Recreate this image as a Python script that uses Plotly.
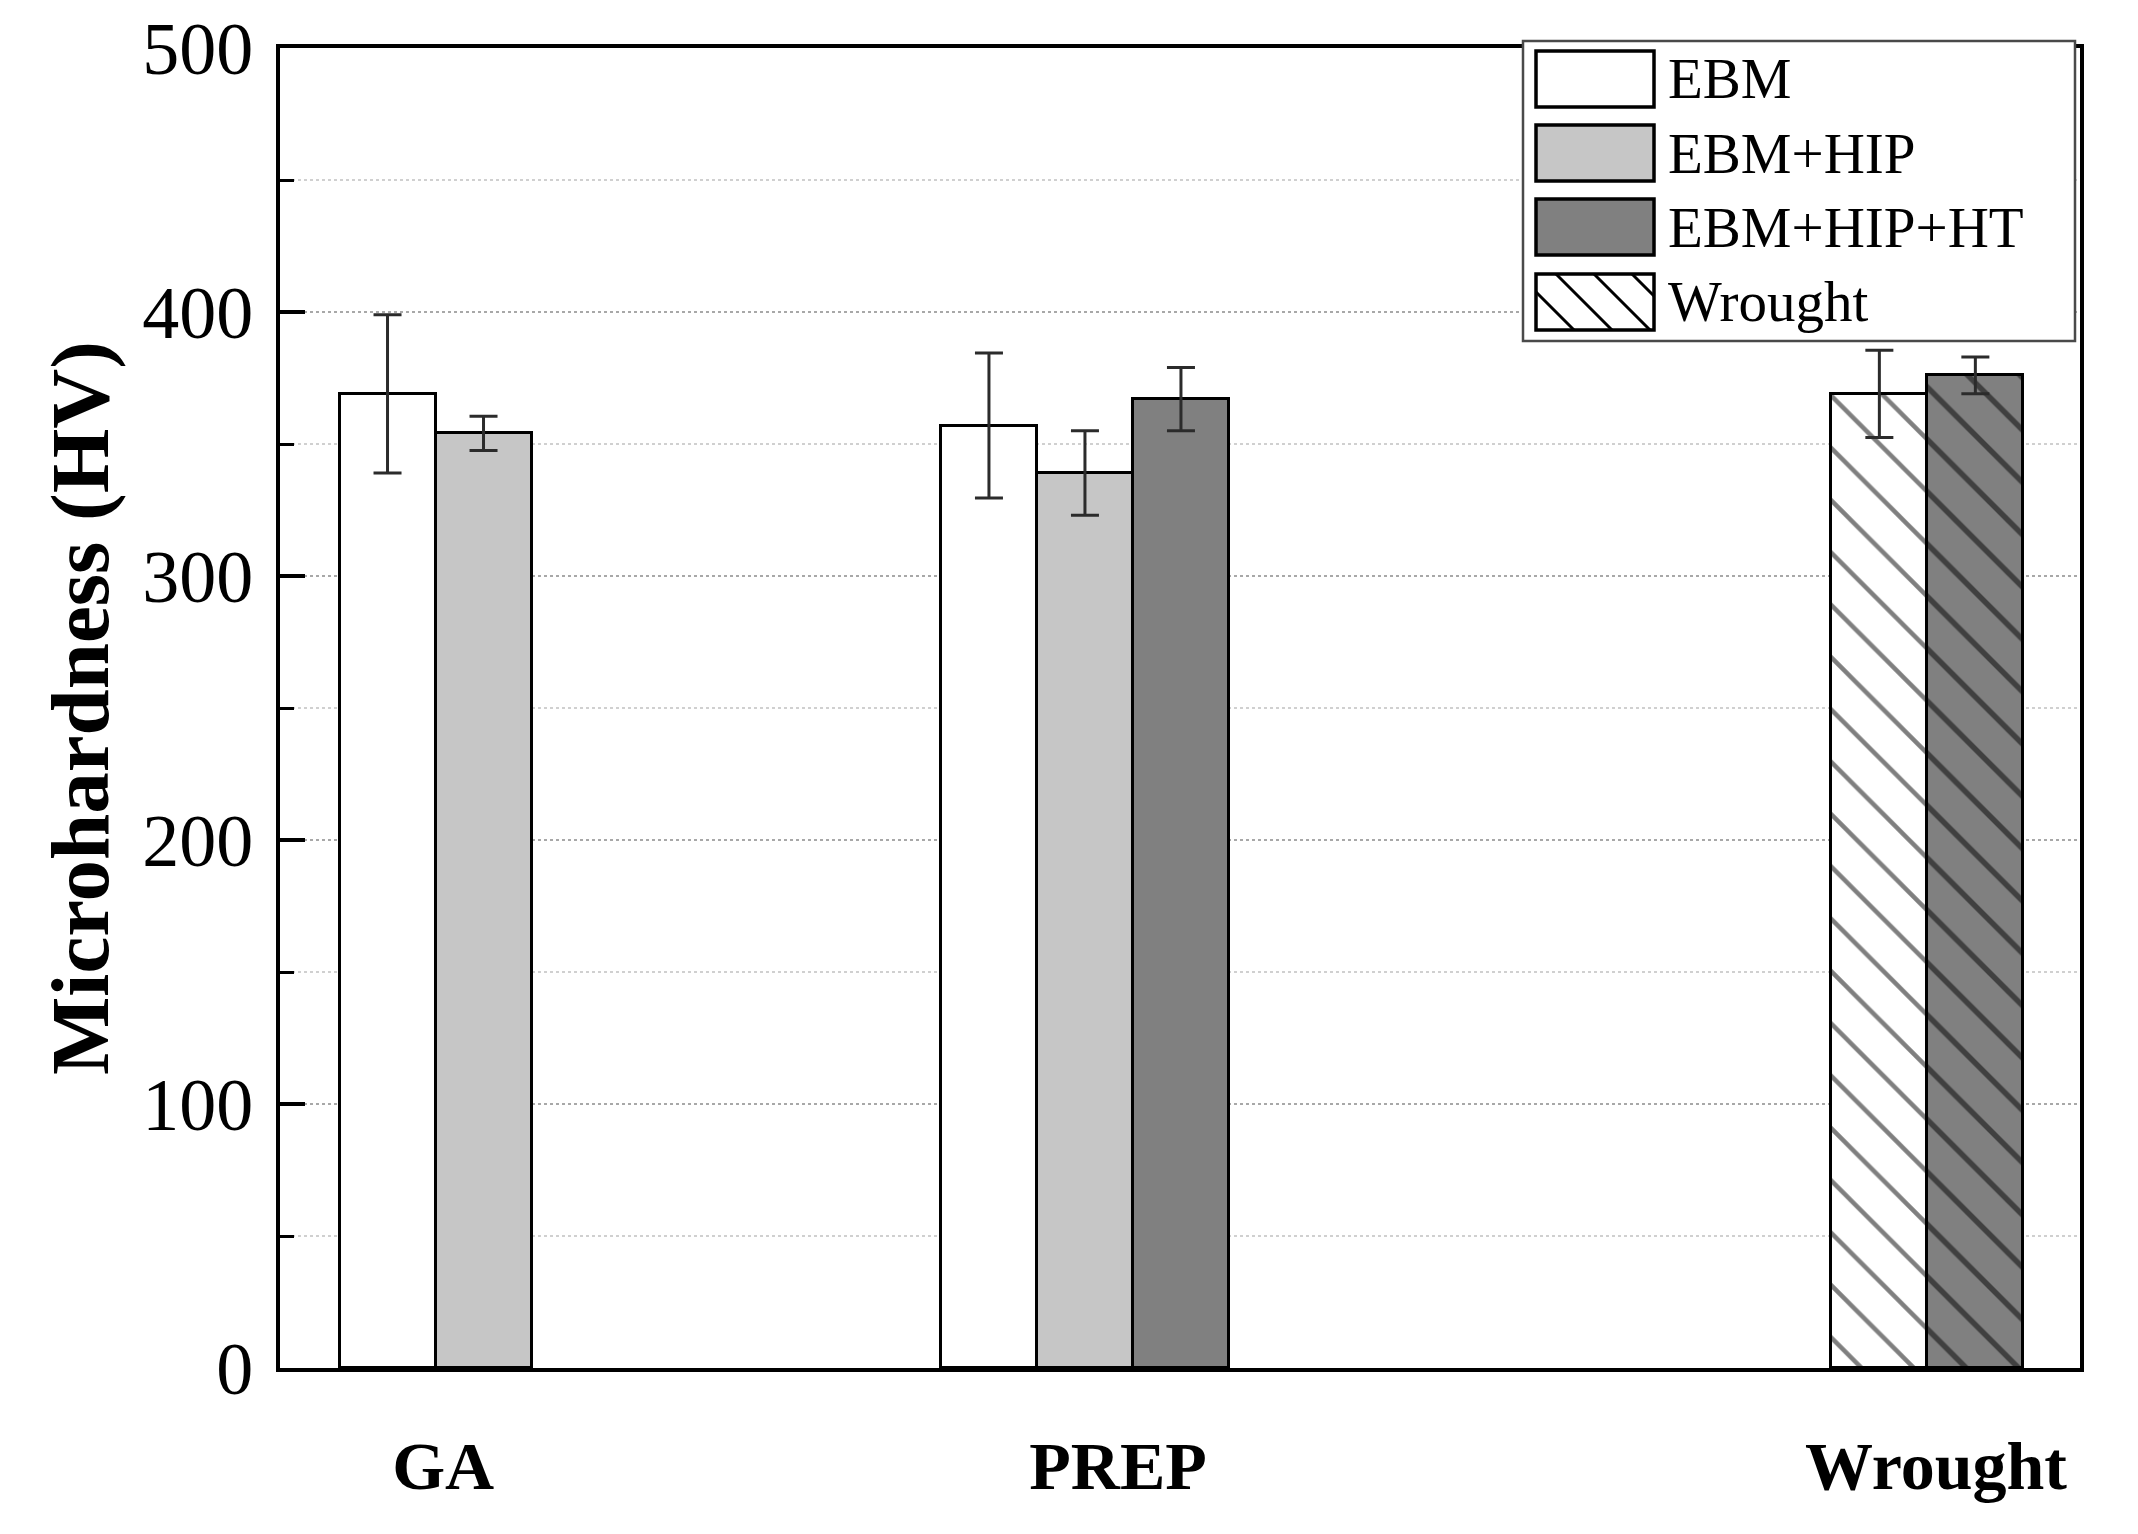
import plotly.graph_objects as go

# ---------------- data ----------------
groups = ["GA", "PREP", "Wrought"]
series_names = ["EBM", "EBM+HIP", "EBM+HIP+HT", "Wrought"]

ebm_groups = ["GA", "PREP"]
ebm_vals = [369, 357]
ebm_err = [30, 27.5]

hip_groups = ["GA", "PREP"]
hip_vals = [354, 339]
hip_err = [6.5, 16]

ht_groups = ["PREP"]
ht_vals = [367]
ht_err = [12]

wr_groups = ["Wrought"]
wr_vals = [369]
wr_err = [16.5]

wr_ht_groups = ["Wrought"]
wr_ht_vals = [376]
wr_ht_err = [7]

# ---------------- layout helpers (positions, in bar-width units) ----------------
group_first_slot = {"GA": 1.12, "PREP": 7.385, "Wrought": 16.66}
label_pos = [1.70, 8.73, 17.25]
slot = {"EBM": 0, "EBM+HIP": 1, "EBM+HIP+HT": 2, "Wrought": 0, "WroughtHT": 1}

OFF = 8  # default body margin of the html page
W, H = 2138 - 2 * OFF, 1534 - 2 * OFF
ML, MT = 280 - OFF, 48 - OFF
PW, PH = 1800, 1320
MR, MB = W - ML - PW, H - MT - PH
FONT = "Liberation Serif"

WHITE = "#ffffff"
LIGHT = "#c6c6c6"
DARK = "#808080"


def xpos(gs, key):
    return [group_first_slot[g] + slot[key] for g in gs]


# page-pixel -> paper coordinates
def px_x(p):
    return (p - OFF - ML) / PW


def px_y(p):
    return 1 - (p - OFF - MT) / PH


err_style = dict(type="data", visible=True, color="#2b2b2b", thickness=3, width=14)

fig = go.Figure()


def add_bar(gs, vals, errs, key, name, color, pattern=None):
    marker = dict(color=color, line=dict(color="black", width=3))
    if pattern:
        marker["pattern"] = pattern
    fig.add_trace(go.Bar(
        x=xpos(gs, key), y=vals, width=1.0, name=name, marker=marker,
        error_y=dict(array=errs, **err_style), showlegend=False,
    ))


add_bar(ebm_groups, ebm_vals, ebm_err, "EBM", series_names[0], WHITE)
add_bar(hip_groups, hip_vals, hip_err, "EBM+HIP", series_names[1], LIGHT)
add_bar(ht_groups, ht_vals, ht_err, "EBM+HIP+HT", series_names[2], DARK)
add_bar(wr_groups, wr_vals, wr_err, "Wrought", series_names[3], WHITE,
        pattern=dict(shape="\\", fgcolor="black", bgcolor=WHITE, size=37, solidity=0.12))
add_bar(wr_ht_groups, wr_ht_vals, wr_ht_err, "WroughtHT", "Wrought (HT)", DARK,
        pattern=dict(shape="\\", fgcolor="black", bgcolor=DARK, size=37, solidity=0.15))

# ---------------- custom legend ----------------
shapes = []
annotations = []
box = (1523, 2075, 41, 341)
shapes.append(dict(type="rect", xref="paper", yref="paper", layer="above",
                   x0=px_x(box[0]), x1=px_x(box[1]), y0=px_y(box[3]), y1=px_y(box[2]),
                   line=dict(color="#4a4a4a", width=2.5), fillcolor="white"))
sw_x0, sw_x1 = 1536, 1654
row_centers = [79, 153, 227, 302]
half_h = 28
sw_colors = [WHITE, LIGHT, DARK, WHITE]
for i, (name, col) in enumerate(zip(series_names, sw_colors)):
    cy = row_centers[i]
    y0p, y1p = cy - half_h, cy + half_h
    shapes.append(dict(type="rect", xref="paper", yref="paper", layer="above",
                       x0=px_x(sw_x0), x1=px_x(sw_x1), y0=px_y(y1p), y1=px_y(y0p),
                       line=dict(color="black", width=3.5), fillcolor=col))
    if name == "Wrought":
        s = 38
        c = y0p - sw_x1 + 22
        while c < y1p - sw_x0:
            xa = max(sw_x0, y0p - c)
            xb = min(sw_x1, y1p - c)
            if xb > xa + 1:
                shapes.append(dict(type="line", xref="paper", yref="paper", layer="above",
                                   x0=px_x(xa), y0=px_y(xa + c), x1=px_x(xb), y1=px_y(xb + c),
                                   line=dict(color="black", width=3)))
            c += s
    annotations.append(dict(text=name, xref="paper", yref="paper", x=px_x(1666), y=px_y(cy),
                            xanchor="left", yanchor="middle", showarrow=False,
                            font=dict(family=FONT, size=57, color="black")))

# y-axis title
annotations.append(dict(text="<b>Microhardness (HV)</b>", xref="paper", yref="paper",
                        x=px_x(80), y=0.5, xanchor="center", yanchor="middle",
                        textangle=-90, showarrow=False,
                        font=dict(family=FONT, size=83, color="black")))

fig.update_layout(
    width=W, height=H,
    margin=dict(l=ML, r=MR, t=MT, b=MB, autoexpand=False),
    paper_bgcolor="white", plot_bgcolor="white",
    barmode="overlay", bargap=0,
    showlegend=False,
    shapes=shapes, annotations=annotations,
    font=dict(family=FONT, color="black"),
)

fig.update_xaxes(
    range=[0, 18.75], showgrid=False, zeroline=False,
    showline=True, linecolor="black", linewidth=4, mirror=True,
    ticks="", tickvals=label_pos, ticktext=groups,
    tickfont=dict(family=FONT, size=68, color="black", weight="bold"),
    ticklabelstandoff=35, ticklabeloverflow="allow",
)

fig.update_yaxes(
    range=[0, 500], tickvals=[0, 100, 200, 300, 400, 500],
    showline=True, linecolor="black", linewidth=4, mirror=True,
    ticks="inside", ticklen=25, tickwidth=4, tickcolor="black",
    showgrid=True, gridcolor="#a8a8a8", gridwidth=2, griddash="dot",
    zeroline=False,
    minor=dict(dtick=50, ticks="inside", ticklen=14, tickwidth=3, tickcolor="black",
               showgrid=True, gridcolor="#d0d0d0", gridwidth=2, griddash="dot"),
    tickfont=dict(family=FONT, size=74, color="black"),
    ticklabelstandoff=8, ticklabeloverflow="allow",
)

fig.write_html("out.html")
